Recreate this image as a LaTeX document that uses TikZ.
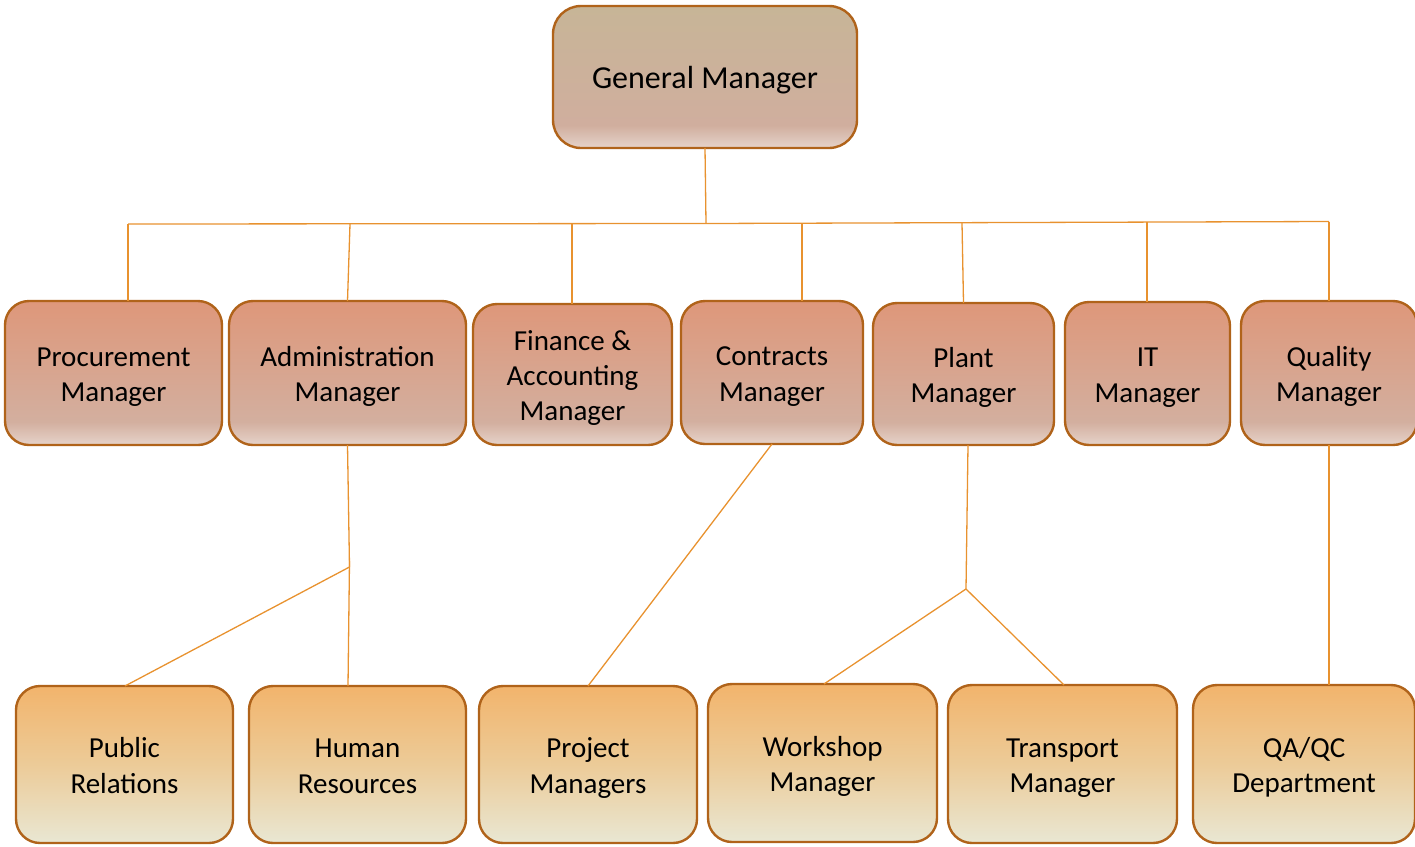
\documentclass[tikz,border=0pt]{standalone}
\usepackage{fontspec}
\setmainfont{Carlito}
\definecolor{gmtop}{HTML}{C7B597}
\definecolor{gmmid}{HTML}{D0AE9E}
\definecolor{gmbot}{HTML}{E6D3CA}
\definecolor{mtop}{HTML}{DE977A}
\definecolor{mmid}{HTML}{D3AF9F}
\definecolor{mbot}{HTML}{E6D3CA}
\definecolor{btop}{HTML}{F2B46C}
\definecolor{bmid}{HTML}{ECCB98}
\definecolor{bbot}{HTML}{E9E7D3}
\definecolor{bordercol}{HTML}{B0631A}
\definecolor{linecol}{HTML}{E8922F}
\pgfdeclareverticalshading{gmsh}{100bp}{color(0bp)=(gmbot); color(25bp)=(gmbot); color(33bp)=(gmmid); color(75bp)=(gmtop); color(100bp)=(gmtop)}
\pgfdeclareverticalshading{msh}{100bp}{color(0bp)=(mbot); color(25bp)=(mbot); color(33bp)=(mmid); color(75bp)=(mtop); color(100bp)=(mtop)}
\pgfdeclareverticalshading{bsh}{100bp}{color(0bp)=(bbot); color(25bp)=(bbot); color(50bp)=(bmid); color(75bp)=(btop); color(100bp)=(btop)}
\newcommand\boxtext[1]{\raisebox{-4pt}[\height][\depth]{\begin{tabular}{@{}c@{}}#1\end{tabular}}}
\tikzset{
  box/.style={draw=bordercol, line width=2.4pt, rounded corners=24pt,
    inner sep=0pt, outer sep=0pt, text=black,
    font=\fontsize{29}{35.4}\selectfont},
  gmbox/.style={box, shading=gmsh, rounded corners=28pt, font=\fontsize{32}{39}\selectfont},
  midbox/.style={box, shading=msh},
  botbox/.style={box, shading=bsh},
  conn/.style={draw=linecol, line width=1.3pt}
}
\begin{document}
\begin{tikzpicture}[x=1pt,y=-1pt]
\useasboundingbox (0,0) rectangle (1415,846);
% top
\node[gmbox, minimum width=304pt, minimum height=142pt] (gm) at (705,77) {\boxtext{General Manager}};
% middle row
\node[midbox, minimum width=217pt, minimum height=144pt] (proc) at (113.5,373) {\boxtext{Procurement\\Manager}};
\node[midbox, minimum width=237pt, minimum height=144pt] (admin) at (347.5,373) {\boxtext{Administration\\Manager}};
\node[midbox, minimum width=199pt, minimum height=141pt] (fin) at (572.5,374.5) {\boxtext{Finance \&\\Accounting\\Manager}};
\node[midbox, minimum width=182pt, minimum height=143pt] (contr) at (772,372.5) {\boxtext{Contracts\\Manager}};
\node[midbox, minimum width=181pt, minimum height=142pt] (plant) at (963.5,374) {\boxtext{Plant\\Manager}};
\node[midbox, minimum width=165pt, minimum height=143pt] (it) at (1147.5,373.5) {\boxtext{IT\\Manager}};
\node[midbox, minimum width=176pt, minimum height=144pt] (qual) at (1329,373) {\boxtext{Quality\\Manager}};
% bottom row
\node[botbox, minimum width=217pt, minimum height=157pt] (pr) at (124.5,764.5) {\boxtext{Public\\Relations}};
\node[botbox, minimum width=217pt, minimum height=157pt] (hr) at (357.5,764.5) {\boxtext{Human\\Resources}};
\node[botbox, minimum width=218pt, minimum height=157pt] (pm) at (588,764.5) {\boxtext{Project\\Managers}};
\node[botbox, minimum width=229pt, minimum height=158pt] (ws) at (822.5,763) {\boxtext{Workshop\\Manager}};
\node[botbox, minimum width=229pt, minimum height=158pt] (tr) at (1062.5,764) {\boxtext{Transport\\Manager}};
\node[botbox, minimum width=222pt, minimum height=158pt] (qa) at (1304,764) {\boxtext{QA/QC\\Department}};
% bus
\coordinate (bc) at (706,223.5);
\coordinate (bl) at (128,224);
\coordinate (br) at (1329,221.5);
\coordinate (b2) at (350,224);
\coordinate (b3) at (572,224);
\coordinate (b4) at (802,223);
\coordinate (b5) at (962,223);
\coordinate (b6) at (1147,222);
\draw[conn] (gm.south) -- (bc);
\draw[conn] (bl) -- (bc) -- (br);
\draw[conn] (bl) -- (bl |- proc.north);
\draw[conn] (b2) -- (admin.north);
\draw[conn] (b3) -- (b3 |- fin.north);
\draw[conn] (b4) -- (b4 |- contr.north);
\draw[conn] (b5) -- (plant.north);
\draw[conn] (b6) -- (b6 |- it.north);
\draw[conn] (br) -- (qual.north);
% admin branch
\coordinate (aj) at (349.5,567);
\draw[conn] (admin.south) -- (aj);
\draw[conn] (aj) -- ([xshift=0.5pt]pr.north);
\draw[conn] ([yshift=6pt]aj) -- ([xshift=-9.5pt]hr.north);
% contracts
\draw[conn] (contr.south) -- (pm.north);
% plant branch
\coordinate (pj) at (966,589);
\draw[conn] ([xshift=4.5pt]plant.south) -- (pj);
\draw[conn] (pj) -- ([xshift=1.5pt]ws.north);
\draw[conn] (pj) -- ([xshift=1.5pt]tr.north);
% quality
\draw[conn] (qual.south) -- (qual.south |- qa.north);
\end{tikzpicture}
\end{document}
